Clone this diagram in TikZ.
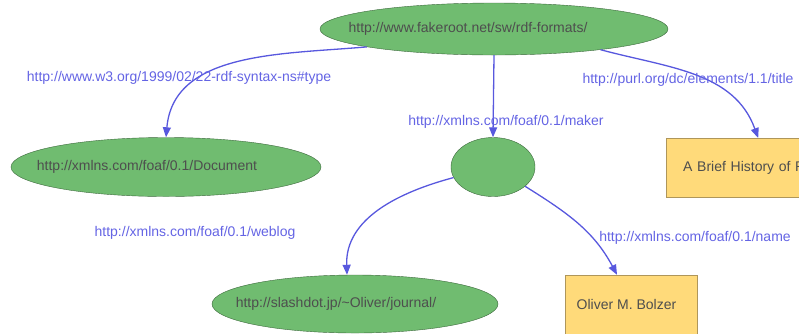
\documentclass[tikz,border=0pt]{standalone}
\usepackage{fontspec}
\setmainfont{Liberation Sans}
\usepackage{xcolor}
\usetikzlibrary{shapes.geometric,arrows.meta}

\definecolor{resgreen}{RGB}{112,188,112}
\definecolor{resline}{RGB}{60,105,60}
\definecolor{lityellow}{RGB}{255,218,122}
\definecolor{litline}{RGB}{175,150,90}
\definecolor{arcblue}{RGB}{88,88,222}
\definecolor{proptext}{RGB}{100,100,228}
\definecolor{nodetext}{RGB}{78,78,78}

\begin{document}
\begin{tikzpicture}[x=1pt, y=-1pt,
	res/.style={ellipse, draw=resline, fill=resgreen, text=nodetext, inner sep=0pt, font=\fontsize{14}{16}\selectfont},
	lit/.style={rectangle, draw=litline, fill=lityellow, text=nodetext, inner sep=0pt, font=\fontsize{14}{16}\selectfont},
	prop/.style={text=proptext, inner sep=0pt, font=\fontsize{14}{16}\selectfont},
	nudge/.style={execute at begin node={\hspace*{-#1pt}}},
	arc/.style={draw=arcblue, line width=1.3pt, ->},
	>={Triangle[length=10pt,width=8pt]}]
	\useasboundingbox (0,0) rectangle (799,333);
	\clip (0,0) rectangle (799,333);
	
	% resources
	\node [res, nudge=52, minimum width=348, minimum height=52] (formats) at (494,29) {http://www.fakeroot.net/sw/rdf-formats/};
	\node [res, nudge=38, minimum width=310, minimum height=59] (document) at (166,167) {http://xmlns.com/foaf/0.1/Document};
	\node [res, minimum width=84, minimum height=59] (maker) at (493,167) {};
	\node [res, nudge=38, minimum width=286, minimum height=58] (journal) at (355,304) {http://slashdot.jp/\textasciitilde Oliver/journal/};
	
	% literals
	\node [lit, anchor=north west, minimum width=174, minimum height=59, text width=150, align=left, inner xsep=17] (history) at (666,138) {A Brief History of R};
	\node [lit, nudge=9, minimum width=132, minimum height=59] (name) at (631,304.5) {Oliver M. Bolzer};
	
	% arcs
	\draw [arc] (formats.188) to[out=185,in=85] (document.north);
	\draw [arc] (formats.south) -- (maker.north);
	\draw [arc] (formats.349) to[out=-15,in=110] (history.north);
	\draw [arc] (maker.195) to[out=195,in=92] ([xshift=-8]journal.north);
	\draw [arc] (maker.329) to[out=-32,in=118] ([xshift=-14]name.north);
	
	% properties
	\node [prop] (type) at (179,78) {http://www.w3.org/1999/02/22-rdf-syntax-ns\#type};
	\node [prop] (makerprop) at (506,122) {http://xmlns.com/foaf/0.1/maker};
	\node [prop] (title) at (688,80) {http://purl.org/dc/elements/1.1/title};
	\node [prop] (weblog) at (195,233) {http://xmlns.com/foaf/0.1/weblog};
	\node [prop] (nameprop) at (695,238) {http://xmlns.com/foaf/0.1/name};
\end{tikzpicture}
\end{document}
